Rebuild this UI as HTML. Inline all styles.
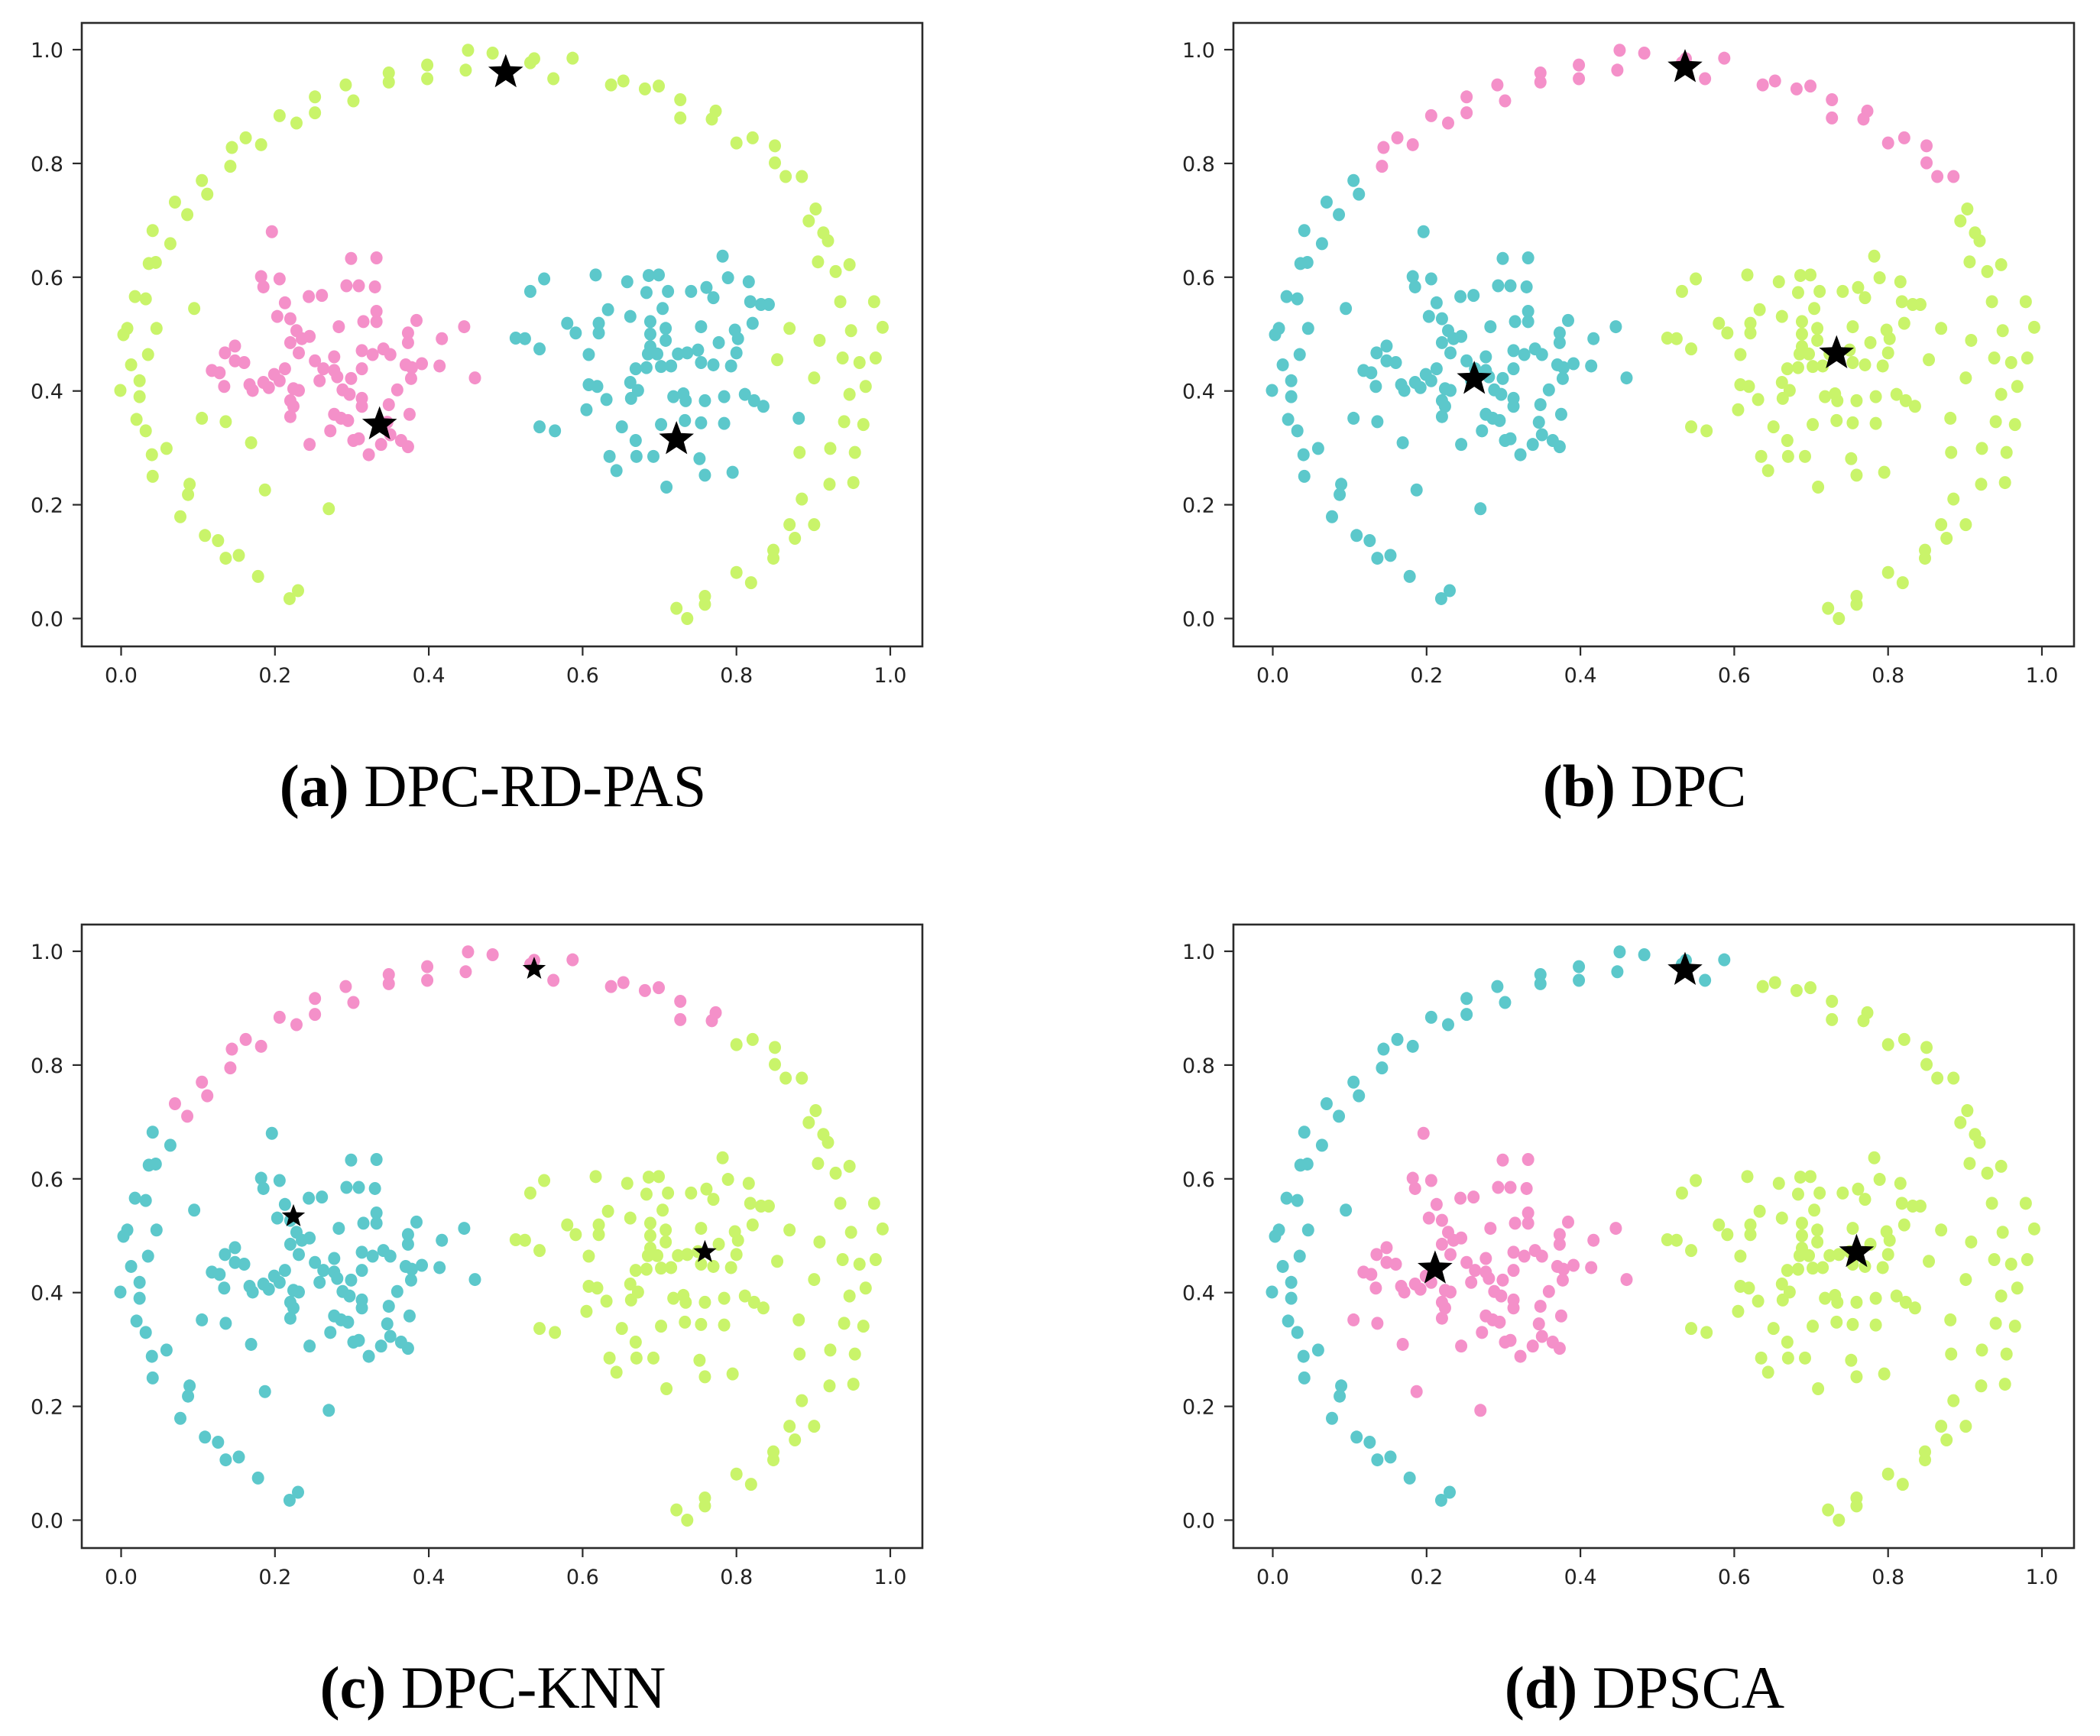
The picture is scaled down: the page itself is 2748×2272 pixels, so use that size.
<!DOCTYPE html>
<html><head><meta charset="utf-8">
<style>
html,body{margin:0;padding:0;background:#fff;}
svg{display:block;}
.tick{font-family:"DejaVu Sans","Liberation Sans",sans-serif;font-size:27px;fill:#222;}
.cap{font-family:"Liberation Serif",serif;font-size:78px;fill:#000;}
</style></head>
<body>
<svg id="fig" width="2748" height="2272" viewBox="0 0 2748 2272" xmlns="http://www.w3.org/2000/svg"></svg>
<script>
// ---- data (unit square) ----
const arcPts = [[0.451,0.999],[0.483,0.994],[0.448,0.964],[0.398,0.973],[0.398,0.949],[0.348,0.959],[0.348,0.943],[0.292,0.938],[0.302,0.910],[0.252,0.917],[0.252,0.889],[0.228,0.871],[0.206,0.884],[0.182,0.833],[0.162,0.845],[0.144,0.828],[0.142,0.795],[0.105,0.770],[0.112,0.746],[0.070,0.732],[0.086,0.710],[0.041,0.682],[0.064,0.659],[0.045,0.626],[0.036,0.624],[0.018,0.566],[0.032,0.562],[0.095,0.545],[0.008,0.510],[0.003,0.499],[0.046,0.510],[0.035,0.464],[0.013,0.446],[0.024,0.418],[-0.001,0.401],[0.024,0.390],[0.020,0.350],[0.032,0.330],[0.040,0.288],[0.059,0.299],[0.041,0.250],[0.089,0.236],[0.087,0.218],[0.077,0.179],[0.109,0.146],[0.126,0.137],[0.136,0.106],[0.153,0.111],[0.178,0.074],[0.219,0.035],[0.230,0.049],
[0.532,0.977],[0.537,0.984],[0.587,0.985],[0.562,0.949],[0.637,0.938],[0.653,0.945],[0.681,0.931],[0.699,0.936],[0.727,0.912],[0.727,0.880],[0.773,0.892],[0.768,0.878],[0.800,0.836],[0.821,0.845],[0.850,0.831],[0.850,0.801],[0.864,0.777],[0.885,0.777],[0.903,0.720],[0.894,0.699],[0.913,0.678],[0.919,0.664],[0.906,0.627],[0.929,0.610],[0.947,0.622],[0.935,0.557],[0.979,0.557],[0.869,0.510],[0.908,0.489],[0.949,0.506],[0.990,0.512],[0.853,0.455],[0.938,0.458],[0.960,0.450],[0.981,0.458],[0.901,0.423],[0.947,0.394],[0.968,0.408],[0.940,0.346],[0.965,0.341],[0.882,0.292],[0.922,0.299],[0.954,0.292],[0.921,0.236],[0.952,0.239],[0.885,0.210],[0.869,0.165],[0.901,0.165],[0.876,0.141],[0.848,0.120],[0.848,0.106],[0.800,0.081],[0.819,0.063],[0.759,0.039],[0.759,0.025],[0.722,0.018],[0.736,0.000]];
const innerPts = [[0.105,0.352],[0.136,0.346],[0.169,0.309],[0.187,0.226],[0.270,0.193]];
const leftPts = [[0.196,0.680],[0.299,0.633],[0.332,0.634],[0.182,0.601],[0.185,0.583],[0.206,0.597],[0.244,0.566],[0.261,0.568],[0.293,0.585],[0.309,0.585],[0.330,0.583],[0.213,0.555],[0.283,0.513],[0.315,0.522],[0.332,0.540],[0.332,0.522],[0.384,0.524],[0.373,0.502],[0.373,0.485],[0.446,0.513],[0.417,0.492],[0.203,0.531],[0.220,0.527],[0.228,0.506],[0.235,0.492],[0.245,0.496],[0.220,0.485],[0.231,0.467],[0.148,0.479],[0.135,0.467],[0.148,0.453],[0.160,0.450],[0.118,0.436],[0.128,0.432],[0.134,0.408],[0.167,0.411],[0.171,0.401],[0.185,0.415],[0.199,0.429],[0.213,0.439],[0.206,0.418],[0.192,0.406],[0.252,0.453],[0.263,0.439],[0.277,0.460],[0.277,0.436],[0.258,0.418],[0.281,0.425],[0.313,0.471],[0.327,0.464],[0.341,0.474],[0.350,0.464],[0.313,0.439],[0.370,0.446],[0.378,0.441],[0.391,0.448],[0.414,0.444],[0.377,0.422],[0.460,0.423],[0.299,0.422],[0.288,0.402],[0.297,0.394],[0.359,0.402],[0.224,0.404],[0.231,0.401],[0.220,0.383],[0.224,0.373],[0.220,0.355],[0.313,0.387],[0.313,0.373],[0.348,0.376],[0.375,0.359],[0.277,0.359],[0.286,0.352],[0.295,0.348],[0.272,0.330],[0.302,0.313],[0.309,0.316],[0.346,0.345],[0.350,0.323],[0.338,0.306],[0.364,0.313],[0.373,0.302],[0.322,0.288],[0.245,0.306]];
const rightPts = [[0.782,0.637],[0.550,0.597],[0.532,0.575],[0.617,0.604],[0.658,0.592],[0.686,0.603],[0.699,0.604],[0.683,0.573],[0.711,0.575],[0.741,0.575],[0.761,0.582],[0.770,0.564],[0.789,0.599],[0.816,0.592],[0.818,0.557],[0.832,0.552],[0.842,0.552],[0.704,0.545],[0.633,0.543],[0.662,0.531],[0.580,0.519],[0.591,0.502],[0.621,0.519],[0.621,0.502],[0.688,0.522],[0.688,0.500],[0.708,0.510],[0.708,0.489],[0.688,0.478],[0.685,0.465],[0.697,0.465],[0.754,0.513],[0.798,0.507],[0.802,0.492],[0.821,0.519],[0.513,0.493],[0.525,0.492],[0.544,0.474],[0.608,0.464],[0.724,0.465],[0.736,0.467],[0.750,0.472],[0.754,0.450],[0.777,0.485],[0.800,0.467],[0.793,0.444],[0.770,0.446],[0.669,0.439],[0.683,0.441],[0.702,0.443],[0.715,0.444],[0.608,0.411],[0.619,0.408],[0.662,0.415],[0.672,0.401],[0.663,0.387],[0.631,0.385],[0.718,0.390],[0.731,0.395],[0.734,0.383],[0.759,0.383],[0.784,0.390],[0.811,0.394],[0.823,0.383],[0.835,0.373],[0.605,0.367],[0.881,0.352],[0.544,0.337],[0.564,0.330],[0.651,0.337],[0.669,0.313],[0.702,0.341],[0.733,0.348],[0.754,0.344],[0.784,0.343],[0.635,0.285],[0.670,0.285],[0.692,0.285],[0.752,0.281],[0.644,0.260],[0.759,0.252],[0.795,0.257],[0.709,0.231]];
const panelTags = ["(a)","(b)","(c)","(d)"];
const panelNames = ["DPC-RD-PAS","DPC","DPC-KNN","DPSCA"];
const starsA = [[0.500,0.960],[0.336,0.341],[0.722,0.315]];
const starsB = [[0.536,0.969],[0.262,0.421],[0.733,0.466]];
const starsC = [[0.537,0.969],[0.224,0.534],[0.759,0.471]];
const starsD = [[0.536,0.967],[0.211,0.442],[0.759,0.471]];
const tickVals = [0.0,0.2,0.4,0.6,0.8,1.0];

const C = {cyan:"#5cc8cb", pink:"#f490c9", green:"#c9f46a"};
const NS = "http://www.w3.org/2000/svg";
const svg = document.getElementById('fig');
function mk(tag, attrs, parent){const e=document.createElementNS(NS,tag);for(const k in attrs)e.setAttribute(k,attrs[k]);(parent||svg).appendChild(e);return e;}

function colorFor(p, g, x, y){
  if(p===0){ if(g==='arc'||g==='inner') return C.green; if(g==='left') return C.pink; return C.cyan; }
  if(p===1){ if(g==='arc'){ if(y>0.775) return C.pink; return x<0.5?C.cyan:C.green; } if(g==='inner'||g==='left') return C.cyan; return C.green; }
  if(p===2){ if(g==='arc'){ if(y>0.70 && x<0.79) return C.pink; return x<0.5?C.cyan:C.green; } if(g==='inner'||g==='left') return C.cyan; return C.green; }
  if(g==='arc') return x<0.62?C.cyan:C.green;
  if(g==='inner'||g==='left') return C.pink; return C.green;
}
const panels = [
  {ox:0, oy:0, stars:starsA, sr:24},
  {ox:1507, oy:0, stars:starsB, sr:24},
  {ox:0, oy:1180, stars:starsC, sr:16},
  {ox:1507, oy:1180, stars:starsD, sr:24}
];
panels.forEach((P,pi)=>{
  const g = mk('g',{});
  
  
  const X = v => P.ox + 158.5 + v*1006.5;
  const Y = v => P.oy + 809.5 - v*744.5;
  const frame = mk('rect',{x:P.ox+107,y:P.oy+30,width:1100,height:816,fill:'none',stroke:'#2a2a2a','stroke-width':2.6},g);
  
  
  tickVals.forEach(t=>{
    const xt = mk('line',{x1:X(t),x2:X(t),y1:P.oy+846,y2:P.oy+858,stroke:'#2a2a2a','stroke-width':2.2},g);
    
    
    const xl = mk('text',{x:X(t),y:P.oy+893,'text-anchor':'middle',class:'tick'},g);
    xl.textContent = t.toFixed(1);
    
    
    const yt = mk('line',{x1:P.ox+95,x2:P.ox+107,y1:Y(t),y2:Y(t),stroke:'#2a2a2a','stroke-width':2.2},g);
    
    
    const yl = mk('text',{x:P.ox+83,y:Y(t)+10,'text-anchor':'end',class:'tick'},g);
    yl.textContent = t.toFixed(1);
    
    
  });
  const groups = [['arc',arcPts],['inner',innerPts],['left',leftPts],['right',rightPts]];
  groups.forEach(([gn,pts])=>{
    pts.forEach(([x,y])=>{
      const c = mk('ellipse',{cx:X(x),cy:Y(y),rx:8,ry:8.5,fill:colorFor(pi,gn,x,y)},g);
      
      
    });
  });
  P.stars.forEach(([x,y])=>{
    const cx=X(x), cy=Y(y), R=P.sr, r=R*0.42; let pts=[];
    for(let i=0;i<10;i++){const a=-Math.PI/2+i*Math.PI/5;const rr=i%2?r:R;pts.push((cx+rr*Math.cos(a)).toFixed(1)+','+(cy+rr*Math.sin(a)).toFixed(1));}
    const s = mk('polygon',{points:pts.join(' '),fill:'#000'},g);
    
    
  });
  const cap = mk('text',{x:P.ox+645,y:P.oy+1055,'text-anchor':'middle',class:'cap'},g);
  
  
  const b = mk('tspan',{'font-weight':'bold'},cap); b.textContent = panelTags[pi];
  const n = mk('tspan',{},cap); n.textContent = ' '+panelNames[pi];
});
</script>
</body></html>
